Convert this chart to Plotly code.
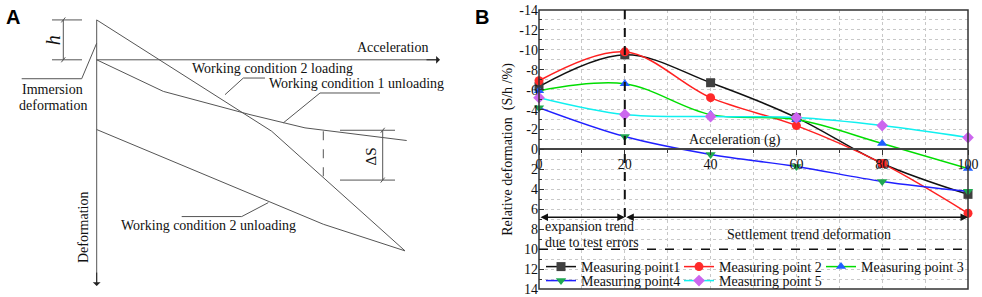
import plotly.graph_objects as go

# ---------------- Panel B data ----------------
accel = [0, 20, 40, 60, 80, 100]
mp1 = [-6.3, -9.5, -6.7, -3.2, 1.4, 4.5]
mp2 = [-6.9, -9.8, -5.2, -2.4, 1.4, 6.4]
mp3 = [-5.9, -6.6, -3.5, -3.0, -0.6, 1.9]
mp4 = [-4.2, -1.3, 0.5, 1.7, 3.2, 4.2]
mp5 = [-5.2, -3.5, -3.3, -3.2, -2.4, -1.2]
series_names = ["Measuring point1", "Measuring point 2", "Measuring point 3",
                "Measuring point4", "Measuring point 5"]
line_colors = ["#111111", "#ff2020", "#00dd00", "#2020ff", "#10f0f0"]
marker_colors = ["#404040", "#ff2a2a", "#1f5fff", "#1fa850", "#cc66ee"]
marker_symbols = ["square", "circle", "triangle-up", "triangle-down", "diamond"]
y_tick_vals = [-14, -12, -10, -8, -6, -4, -2, 0, 2, 4, 6, 8, 10, 12, 14]
y_tick_text = ["-14", "-12", "-10", "-8", "-6", "-4", "-2", "0", "2", "4", "6", "8", "10", "12", "14"]
x_tick_vals = [0, 20, 40, 60, 80, 100]
x_tick_text = ["0", "20", "40", "60", "80", "100"]
split_accel = 20
arrow_level = 6.8
dashed_end = 7.0
limit_level = 10

# ---------------- Panel A schematic (drawing units) ----------------
load2_x = [96.7, 271.7, 405]
load2_y = [20, 131.7, 251.7]
unload1_x = [96.7, 163.3, 250, 283.3, 305, 406.7]
unload1_y = [60, 91.7, 115, 123.3, 128.3, 141]
unload2_x = [96.7, 323.3, 405]
unload2_y = [130, 225, 251.7]
vaxis_x = [96.7, 96.7]
vaxis_y = [20, 284]
haxis_x = [96.7, 437]
haxis_y = [60, 60]
leader_x = [96.7, 81.7, 21.7, None, 225, 243.3, 265, None, 283.3, 320, 380, None, 268.3, 241.7, 181.7]
leader_y = [43.3, 79, 79, None, 95, 78.3, 78.3, None, 123.3, 93.3, 93.3, None, 203.3, 217.3, 217.3]
dim_x = [52, 82, None, 52, 82, None, 63.3, 63.3, None, 61.3, 65.3, None, 61.3, 65.3, None,
         340, 395, None, 340, 395, None, 382.7, 382.7, None, 380.7, 384.7, None, 380.7, 384.7]
dim_y = [20, 20, None, 60, 60, None, 20, 60, None, 22.5, 17.5, None, 62.5, 57.5, None,
         130.7, 130.7, None, 180.7, 180.7, None, 130.7, 180.7, None, 133.2, 128.2, None, 183.2, 178.2]
delta_x = [323.3, 323.3]
delta_y = [131.7, 179]

SERIF = "Liberation Serif, Times New Roman, serif"
GRAY = "#555555"

fig = go.Figure()

# ---- Panel A traces ----
def sk(x, y, dash="solid"):
    fig.add_trace(go.Scatter(x=x, y=y, mode="lines", xaxis="x2", yaxis="y2",
                             line=dict(color=GRAY, width=1, dash=dash),
                             showlegend=False, hoverinfo="skip"))

sk(vaxis_x, vaxis_y)
sk(haxis_x, haxis_y)
sk(load2_x, load2_y)
sk(unload1_x, unload1_y)
sk(unload2_x, unload2_y)
sk(leader_x, leader_y)
sk(dim_x, dim_y)
sk(delta_x, delta_y, dash="dash")

# ---- Panel B traces ----
legend_ids = ["legend", "legend2", "legend3", "legend4", "legend5"]
series = [mp1, mp2, mp3, mp4, mp5]
for i, vals in enumerate(series):
    fig.add_trace(go.Scatter(
        x=accel, y=vals, name=series_names[i], mode="lines+markers",
        line=dict(color=line_colors[i], width=1.5, shape="spline", smoothing=1),
        marker=dict(symbol=marker_symbols[i], color=marker_colors[i], size=9),
        cliponaxis=False, legend=legend_ids[i], xaxis="x", yaxis="y"))

annotations = []
def ta(text, x, y, ref="2", size=14, angle=0, xanchor="center", italic=False):
    annotations.append(dict(
        text=("<i>%s</i>" % text) if italic else text, x=x, y=y,
        xref="x" + ("2" if ref == "2" else ""), yref="y" + ("2" if ref == "2" else ""),
        showarrow=False, textangle=angle, xanchor=xanchor, yanchor="middle",
        font=dict(family=SERIF, size=size, color="#111")))

# Panel A text
ta("Acceleration", 392.5, 47.7)
ta("Working condition 2 loading", 272.3, 68.3)
ta("Working condition 1 unloading", 266.7, 83.3, xanchor="left")
ta("Immersion", 52.5, 89.3)
ta("deformation", 52.5, 106)
ta("Working condition 2 unloading", 208.3, 226.7)
ta("Deformation", 83.3, 227.5, angle=-90)
ta("h", 53.3, 40, size=20, angle=-90, italic=True)
ta("ΔS", 371, 157, size=15, angle=-90)

# Panel A arrow heads
annotations.append(dict(x=96.7, y=287, ax=96.7, ay=272, xref="x2", yref="y2", axref="x2", ayref="y2",
                        text="", showarrow=True, arrowhead=1, arrowsize=1.3, arrowwidth=1, arrowcolor="#222"))
annotations.append(dict(x=440, y=60, ax=425, ay=60, xref="x2", yref="y2", axref="x2", ayref="y2",
                        text="", showarrow=True, arrowhead=1, arrowsize=1.3, arrowwidth=1, arrowcolor="#222"))

# Panel B text
ta("Acceleration (g)", 45.7, -1.0, ref="1")
ta("expansion trend", 1.0, 7.7, ref="1", xanchor="left")
ta("due to test errors", 1.0, 9.35, ref="1", xanchor="left")
ta("Settlement trend deformation", 62.9, 8.5, ref="1")

# Panel B double arrows
for (a0, a1) in [(0, split_accel), (split_accel, 100)]:
    annotations.append(dict(x=a1, y=arrow_level, ax=a0, ay=arrow_level, xref="x", yref="y",
                            axref="x", ayref="y", text="", showarrow=True, arrowhead=2,
                            arrowside="end+start", arrowsize=1, arrowwidth=1.5, arrowcolor="#111"))

# Panel labels
annotations.append(dict(text="<b>A</b>", x=13 / 982, y=1 - 17 / 297, xref="paper", yref="paper",
                        xanchor="center", yanchor="middle", showarrow=False,
                        font=dict(family="Liberation Sans, Arial", size=20, color="#000")))
annotations.append(dict(text="<b>B</b>", x=482 / 982, y=1 - 17 / 297, xref="paper", yref="paper",
                        xanchor="center", yanchor="middle", showarrow=False,
                        font=dict(family="Liberation Sans, Arial", size=20, color="#000")))

shapes = [
    dict(type="rect", xref="x domain", yref="y domain", x0=0, x1=1, y0=0, y1=1,
         line=dict(color="#333", width=1.5), layer="above"),
    dict(type="line", xref="x", yref="y", x0=split_accel, x1=split_accel, y0=-14, y1=dashed_end,
         line=dict(color="#111", width=2, dash="dash")),
    dict(type="line", xref="x", yref="y", x0=0, x1=100, y0=limit_level, y1=limit_level,
         line=dict(color="#111", width=1.5, dash="dash")),
]

dom_x = [539 / 982, 968 / 982]
dom_y = [1 - 290 / 297, 1 - 10 / 297]
zero_pos = (dom_y[0] + dom_y[1]) / 2

legend_x_px = [541, 679, 821, 541, 679]
legend_y_px = [267, 267, 267, 282, 282]
legend_layout = {}
for i, lid in enumerate(legend_ids):
    legend_layout[lid] = dict(orientation="h", x=legend_x_px[i] / 982, xanchor="left",
                              y=1 - legend_y_px[i] / 297, yanchor="middle",
                              bgcolor="rgba(255,255,255,0)",
                              font=dict(family=SERIF, size=14, color="#111"), itemwidth=30)

fig.update_layout(
    width=982, height=297, margin=dict(l=0, r=0, t=0, b=0),
    paper_bgcolor="white", plot_bgcolor="white",
    font=dict(family=SERIF, size=14, color="#111"),
    annotations=annotations, shapes=shapes,
    xaxis=dict(domain=dom_x, range=[0, 100], anchor="free", position=zero_pos,
               tickvals=x_tick_vals, ticktext=x_tick_text, ticks="outside", ticklen=5,
               tickcolor="#333", showline=True, linecolor="#444", linewidth=2,
               showgrid=False, zeroline=False, automargin=False, ticklabelstandoff=-3,
               tickfont=dict(family=SERIF, size=14, color="#111"),
               minor=dict(dtick=10, tick0=0, ticks="outside", ticklen=3, tickcolor="#333",
                          showgrid=True, gridcolor="#c8c8c8", griddash="dot", gridwidth=1)),
    yaxis=dict(domain=dom_y, range=[14, -14], anchor="x",
               tickvals=y_tick_vals, ticktext=y_tick_text, ticks="inside", ticklen=5,
               tickcolor="#333", showline=False, showgrid=False, zeroline=False, automargin=False,
               tickfont=dict(family=SERIF, size=14, color="#111"),
               title=dict(text="Relative deformation  (S/h /%)", standoff=3,
                          font=dict(family=SERIF, size=14, color="#111")),
               minor=dict(dtick=1, tick0=0, ticks="inside", ticklen=3, tickcolor="#333",
                          showgrid=True, gridcolor="#c8c8c8", griddash="dot", gridwidth=1)),
    xaxis2=dict(domain=[0, 440 / 982], range=[0, 440], anchor="y2", visible=False),
    yaxis2=dict(domain=[0, 1], range=[297, 0], anchor="x2", visible=False),
    **legend_layout,
)

fig.write_html("out.html", config={"displayModeBar": False},
               post_script="document.body.style.margin='0px';")
